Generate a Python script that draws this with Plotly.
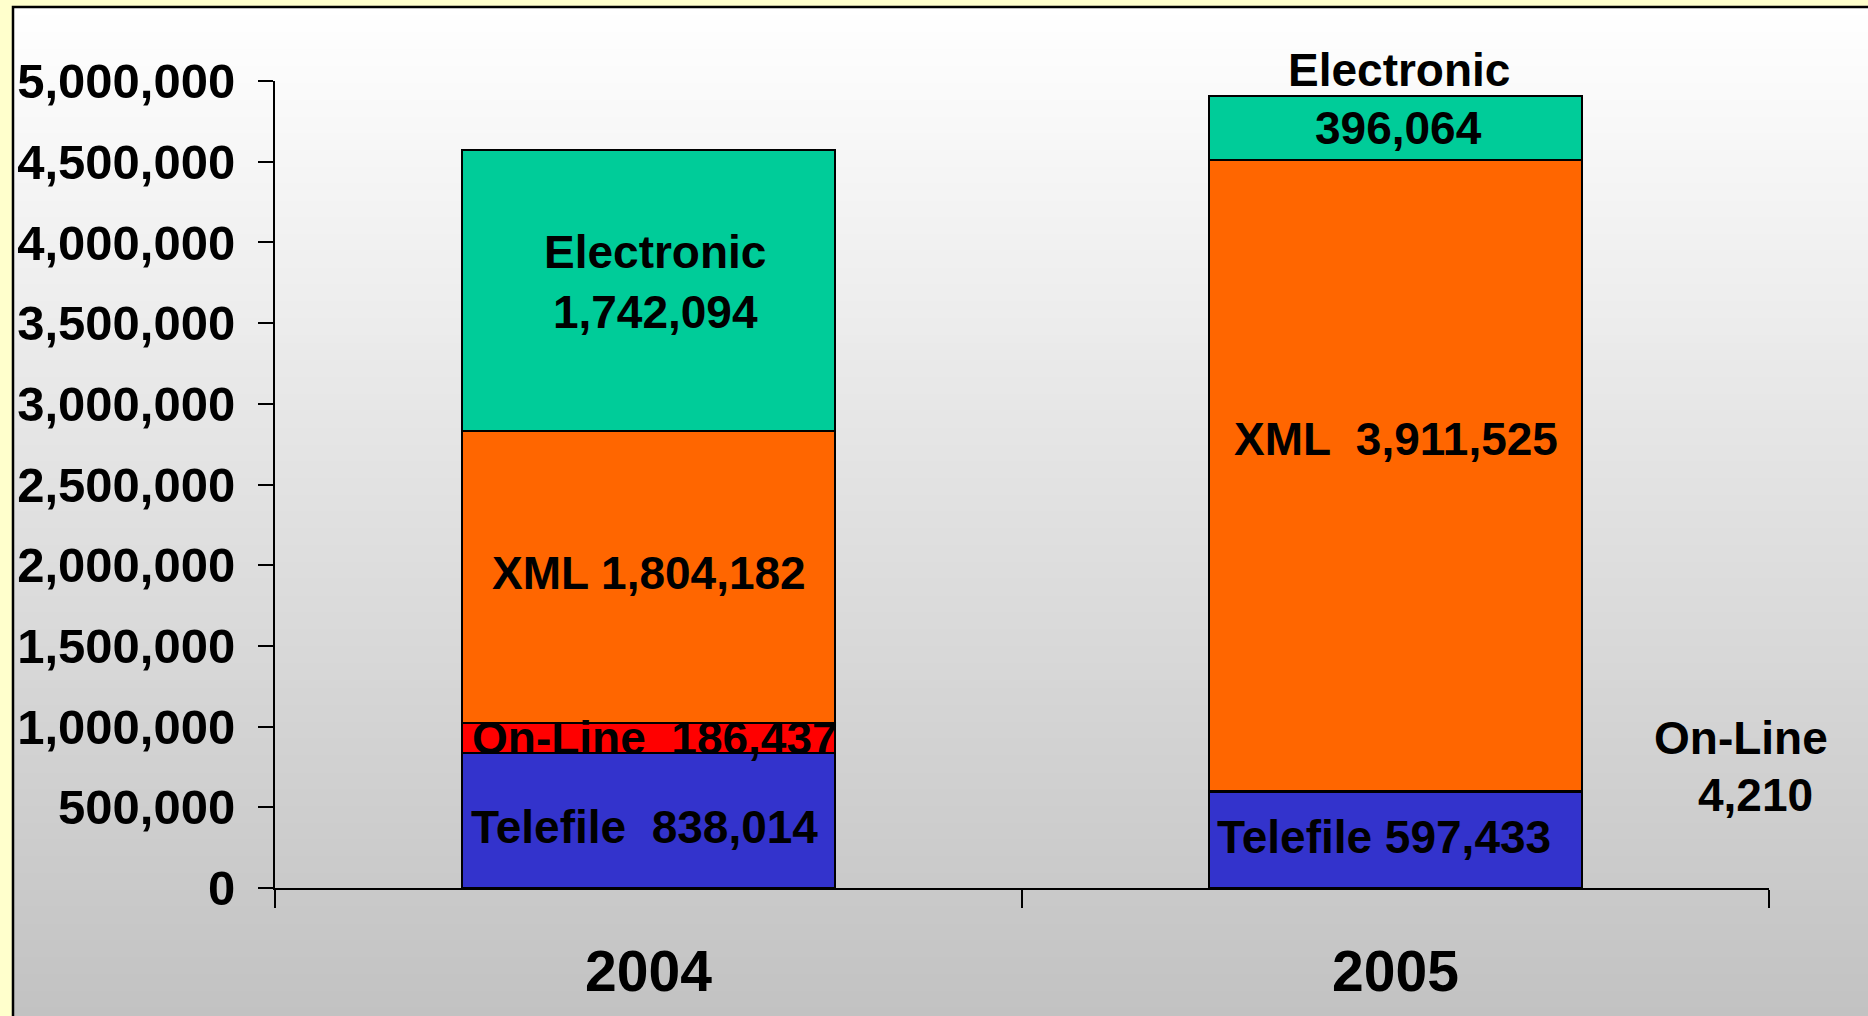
import plotly.graph_objects as go

# ---- data ----
years = ["2004", "2005"]
telefile = [838014, 597433]
online = [186437, 4210]
xml = [1804182, 3911525]
electronic = [1742094, 396064]
y_ticks = [0, 500000, 1000000, 1500000, 2000000, 2500000, 3000000, 3500000, 4000000, 4500000, 5000000]

W, H = 1868, 1016
FONT = "Arial, Liberation Sans, sans-serif"
LFS = 46

series = [
    ("Telefile", telefile, "#3333CC"),
    ("On-Line", online, "#FF0000"),
    ("XML", xml, "#FF6600"),
    ("Electronic", electronic, "#00CC99"),
]

fig = go.Figure()
for name, vals, col in series:
    fig.add_trace(go.Bar(
        x=years, y=vals, name=name,
        marker=dict(color=col, line=dict(color="black", width=2)),
        width=0.5, hoverinfo="skip",
    ))

# ---- background: yellow frame + vertical gradient panel ----
shapes = []
px0 = 13 / W
ptop = 1 - 7 / H
N = 120
c0 = (255, 255, 255)
c1 = (194, 194, 194)
for i in range(N):
    t = i / (N - 1)
    c = tuple(round(c0[k] + (c1[k] - c0[k]) * t) for k in range(3))
    ya = ptop - ptop * i / N
    yb = ptop - ptop * (i + 1) / N
    shapes.append(dict(type="rect", xref="paper", yref="paper", x0=px0, x1=1,
                       y0=yb - 0.001, y1=ya, fillcolor="rgb(%d,%d,%d)" % c,
                       line=dict(width=0), layer="below"))
shapes.append(dict(type="path", xref="paper", yref="paper",
                   path="M %f,0 L %f,%f L 1.01,%f" % (px0, px0, ptop, ptop),
                   line=dict(color="black", width=2.5), layer="below"))

# ---- annotations ----
def cum_mid(idx, j):
    base = sum(s[1][j] for s in series[:idx])
    return base + series[idx][1][j] / 2

anns = []
def lab(text, j, y, xs=0, ys=0):
    anns.append(dict(text=text, x=j, y=y, xref="x", yref="y", showarrow=False,
                     xshift=xs, yshift=ys, xanchor="center", yanchor="middle",
                     font=dict(family=FONT, size=LFS, color="black", weight="bold")))

# 2004
lab("Electronic<br>" + f"{electronic[0]:,}", 0, cum_mid(3, 0), 6, 9)
lab("XML " + f"{xml[0]:,}", 0, cum_mid(2, 0), 0, 4)
lab("On-Line \u00a0" + f"{online[0]:,}", 0, cum_mid(1, 0), 6, 0)
lab("Telefile \u00a0" + f"{telefile[0]:,}", 0, cum_mid(0, 0), -4, -7)
# 2005
total05 = telefile[1] + online[1] + xml[1] + electronic[1]
lab("Electronic", 1, total05, 3, 26)
lab(f"{electronic[1]:,}", 1, cum_mid(3, 1), 3, 0)
lab("XML \u00a0" + f"{xml[1]:,}", 1, cum_mid(2, 1), 0, 36)
lab("Telefile " + f"{telefile[1]:,}", 1, cum_mid(0, 1), -12, 3)
# On-Line 2005 label outside the bar
anns.append(dict(text="On-Line", x=1741 / W, y=1 - 738 / H, xref="paper", yref="paper",
                 showarrow=False, xanchor="center", yanchor="middle",
                 font=dict(family=FONT, size=LFS, color="black", weight="bold")))
anns.append(dict(text=f"{online[1]:,}", x=1755 / W, y=1 - 795 / H, xref="paper", yref="paper",
                 showarrow=False, xanchor="center", yanchor="middle",
                 font=dict(family=FONT, size=LFS, color="black", weight="bold")))

fig.update_layout(
    width=W, height=H,
    margin=dict(l=0, r=0, t=0, b=0, pad=0, autoexpand=False),
    paper_bgcolor="#FFFFCC",
    plot_bgcolor="rgba(0,0,0,0)",
    barmode="stack",
    showlegend=False,
    shapes=shapes,
    annotations=anns,
)
fig.update_xaxes(
    type="category",
    domain=[275 / W, 1769 / W],
    range=[-0.5, 1.5],
    showline=True, linecolor="black", linewidth=2,
    ticks="outside", tickson="boundaries", ticklen=18, tickwidth=2, tickcolor="black",
    tickfont=dict(family=FONT, size=57, color="black", weight="bold"),
    ticklabelstandoff=33, tickangle=0, automargin=False,
    showgrid=False, zeroline=False, fixedrange=True,
)
fig.update_yaxes(
    domain=[1 - 888 / H, 1 - 81 / H],
    range=[0, 5000000],
    tickvals=y_ticks, tickformat=",d",
    showline=True, linecolor="black", linewidth=2,
    ticks="outside", ticklen=15, tickwidth=2, tickcolor="black",
    tickfont=dict(family=FONT, size=49, color="black", weight="bold"),
    ticklabelstandoff=13, automargin=False,
    showgrid=False, zeroline=False, fixedrange=True,
)

fig.write_html("out.html", config={"displayModeBar": False},
               post_script="document.body.style.margin='0';document.body.style.overflow='hidden';")
